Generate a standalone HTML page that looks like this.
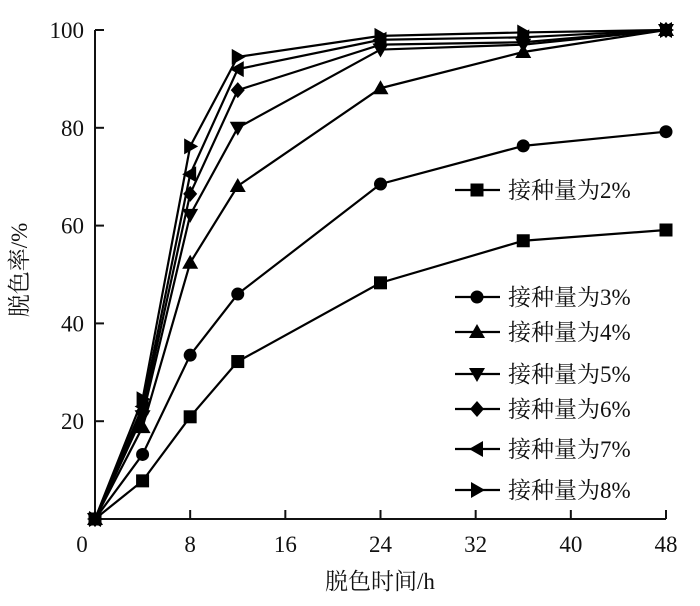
<!DOCTYPE html>
<html><head><meta charset="utf-8">
<style>
html,body{margin:0;padding:0;background:#fff;}
svg text{font-family:"Liberation Serif","Noto Serif CJK SC","Noto Sans CJK SC",serif;fill:#111;}
</style></head>
<body>
<svg id="chart" width="700" height="601" viewBox="0 0 700 601" xmlns="http://www.w3.org/2000/svg"></svg>
<script>
const times = [0, 4, 8, 12, 24, 36, 48];
const s2 = [0, 7.8, 20.9, 32.2, 48.3, 56.9, 59.1];
const s3 = [0, 13.2, 33.5, 46, 68.5, 76.3, 79.2];
const s4 = [0, 18.8, 52.4, 68.1, 88.1, 95.5, 100];
const s5 = [0, 21, 62.2, 80, 96, 97, 100];
const s6 = [0, 22, 66.5, 87.7, 97, 97.5, 100];
const s7 = [0, 23, 70.5, 92, 98, 98.5, 100];
const s8 = [0, 24.5, 76.2, 94.5, 98.8, 99.5, 100];
const seriesNames = ["接种量为2%","接种量为3%","接种量为4%","接种量为5%","接种量为6%","接种量为7%","接种量为8%"];
const xTicks = [0, 8, 16, 24, 32, 40, 48];
const yTicks = [20, 40, 60, 80, 100];

const svg = document.getElementById('chart');
const NS = 'http://www.w3.org/2000/svg';
const X0 = 95, X1 = 666, Y0 = 519, Y1 = 30;
const xs = t => X0 + (t / 48) * (X1 - X0);
const ys = v => Y0 - (v / 100) * (Y0 - Y1);
function mk(tag, attrs, parent) {
  const e = document.createElementNS(NS, tag);
  for (const k in attrs) e.setAttribute(k, attrs[k]);
  (parent || svg).appendChild(e);
  return e;
}
const axes = mk('g', {});


const xAxis = mk('line', {x1: X0, y1: Y0, x2: X1, y2: Y0, stroke: '#111', 'stroke-width': 2}, axes);


const yAxis = mk('line', {x1: X0, y1: Y0, x2: X0, y2: Y1, stroke: '#111', 'stroke-width': 2}, axes);


xTicks.forEach(t => {
  const x = xs(t);
  if (t > 0) mk('line', {x1: x, y1: Y0, x2: x, y2: Y0 - 9, stroke: '#111', 'stroke-width': 2}, axes);
  const tx = mk('text', {x: t === 0 ? 82 : x, y: 552, 'font-size': 23, 'text-anchor': 'middle'}, axes);
  tx.textContent = t;
  
  
});
yTicks.forEach(v => {
  const y = ys(v);
  mk('line', {x1: X0, y1: y, x2: X0 + 9, y2: y, stroke: '#111', 'stroke-width': 2}, axes);
  const tx = mk('text', {x: 84, y: y + 8, 'font-size': 23, 'text-anchor': 'end'}, axes);
  tx.textContent = v;
  
  
});
const xt = mk('text', {x: 380, y: 589, 'font-size': 23, 'text-anchor': 'middle'});
xt.textContent = '脱色时间/h';


const yt = mk('text', {x: 0, y: 0, 'font-size': 23, 'text-anchor': 'middle', transform: 'translate(27,270) rotate(-90)'});
yt.textContent = '脱色率/%';



function marker(kind, x, y, parent) {
  const r = 7;
  if (kind === 'square') return mk('rect', {x: x - 6.5, y: y - 6.5, width: 13, height: 13, fill: '#000'}, parent);
  if (kind === 'circle') return mk('circle', {cx: x, cy: y, r: 6.5, fill: '#000'}, parent);
  let p;
  if (kind === 'up') p = [[x, y - r - 1], [x + r + 1, y + r - 1], [x - r - 1, y + r - 1]];
  if (kind === 'down') p = [[x, y + r + 1], [x + r + 1, y - r + 1], [x - r - 1, y - r + 1]];
  if (kind === 'diamond') p = [[x, y - r - 1], [x + r, y], [x, y + r + 1], [x - r, y]];
  if (kind === 'left') p = [[x - r - 1, y], [x + r - 1, y - r - 1], [x + r - 1, y + r + 1]];
  if (kind === 'right') p = [[x + r + 1, y], [x - r + 1, y - r - 1], [x - r + 1, y + r + 1]];
  return mk('polygon', {points: p.map(a => a.join(',')).join(' '), fill: '#000'}, parent);
}
const allSeries = [s2, s3, s4, s5, s6, s7, s8];
const kinds = ['square', 'circle', 'up', 'down', 'diamond', 'left', 'right'];
const legendY = [190, 297, 332, 374, 409, 449, 490];
allSeries.forEach((vals, i) => {
  const g = mk('g', {});
  
  
  const pts = vals.map((v, j) => xs(times[j]) + ',' + ys(v)).join(' ');
  const pl = mk('polyline', {points: pts, fill: 'none', stroke: '#000', 'stroke-width': 2.2}, g);
  
  
  vals.forEach((v, j) => {
    const m = marker(kinds[i], xs(times[j]), ys(v), g);
    
    
  });
  const lg = mk('g', {});
  
  
  const ly = legendY[i];
  mk('line', {x1: 455, y1: ly, x2: 500, y2: ly, stroke: '#000', 'stroke-width': 2.2}, lg);
  marker(kinds[i], 477, ly, lg);
  const lt = mk('text', {x: 508, y: ly + 8, 'font-size': 23}, lg);
  lt.textContent = seriesNames[i];
});
</script>
</body></html>
